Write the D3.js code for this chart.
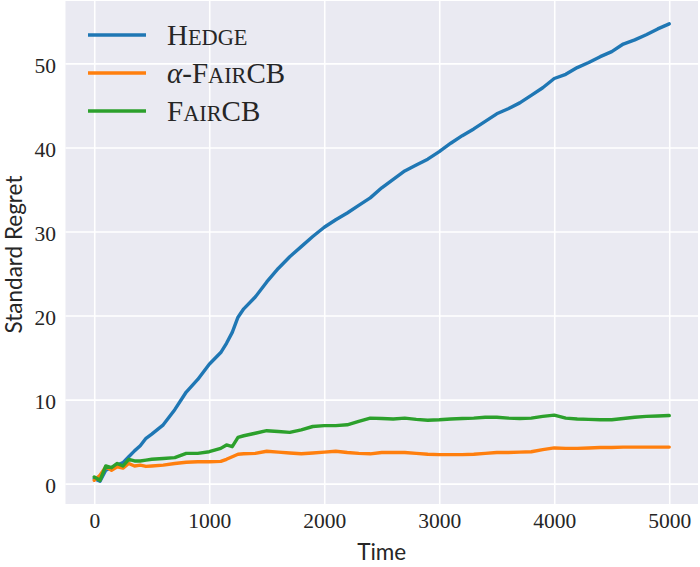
<!DOCTYPE html>
<html>
<head>
<meta charset="utf-8">
<script src="https://cdn.jsdelivr.net/npm/d3@7"></script>
<style>
    body { margin: 0; background: #fff; }
    .tick text { font-family: "Liberation Serif", serif; font-size: 21.5px; fill: #262626; }
    .tick line { stroke: #fff; stroke-width: 1.6; }
    .domain { display: none; }
    .axis-title { font-family: "Lato", "DejaVu Sans", sans-serif; font-size: 22.5px; fill: #262626; }
    .legend-label { font-family: "Liberation Serif", serif; font-size: 29px; fill: #262626; }
</style>
</head>
<body>
<svg id="chart"></svg>
<script>
// time steps the curves were read at
const steps = [0, 50, 100, 150, 200, 250, 300, 350, 400, 450, 500,
    600, 700, 800, 900, 1000, 1100, 1150, 1200, 1250,
    1300, 1400, 1500, 1600, 1700, 1800, 1900, 2000, 2100, 2200,
    2300, 2400, 2500, 2600, 2700, 2800, 2900, 3000, 3100, 3200,
    3300, 3400, 3500, 3600, 3700, 3800, 3900, 4000, 4100, 4200,
    4300, 4400, 4500, 4600, 4700, 4800, 4900, 5000];

const hedge = [0.6, 0.3, 1.6, 1.9, 2.2, 2.5, 3.2, 3.9, 4.5, 5.4, 5.9,
    7.0, 8.8, 10.9, 12.4, 14.2, 15.6, 16.7, 18.0, 19.8,
    20.8, 22.2, 24.0, 25.6, 27.0, 28.2, 29.4, 30.5, 31.4, 32.2,
    33.1, 34.0, 35.2, 36.2, 37.2, 37.9, 38.6, 39.5, 40.5, 41.4,
    42.2, 43.1, 44.0, 44.6, 45.3, 46.2, 47.1, 48.2, 48.7, 49.5,
    50.1, 50.8, 51.4, 52.3, 52.8, 53.4, 54.1, 54.7];

const alphaFairCB = [0.4, 1.0, 2.0, 1.6, 2.0, 1.85, 2.4, 2.1, 2.2, 2.05, 2.1,
    2.2, 2.4, 2.55, 2.6, 2.6, 2.65, 2.9, 3.2, 3.5,
    3.55, 3.6, 3.85, 3.75, 3.65, 3.55, 3.65, 3.75, 3.85, 3.7,
    3.6, 3.55, 3.7, 3.7, 3.7, 3.6, 3.5, 3.45, 3.45, 3.45,
    3.5, 3.6, 3.7, 3.7, 3.75, 3.8, 4.05, 4.25, 4.2, 4.2,
    4.25, 4.3, 4.3, 4.35, 4.35, 4.35, 4.35, 4.35];

const fairCB = [0.8, 0.4, 2.1, 1.9, 2.4, 2.1, 2.9, 2.7, 2.7, 2.8, 2.9,
    3.0, 3.1, 3.6, 3.6, 3.8, 4.2, 4.6, 4.4, 5.5,
    5.7, 6.0, 6.3, 6.2, 6.1, 6.4, 6.8, 6.9, 6.9, 7.0,
    7.4, 7.8, 7.75, 7.7, 7.8, 7.65, 7.55, 7.6, 7.7, 7.75,
    7.8, 7.9, 7.9, 7.8, 7.75, 7.8, 8.0, 8.15, 7.8, 7.7,
    7.65, 7.6, 7.6, 7.75, 7.9, 8.0, 8.05, 8.1];

const seriesNames = ["Hedge", "α-FairCB", "FairCB"];
const seriesColors = ["#1f77b4", "#ff7f0e", "#2ca02c"];
const xTicks = [0, 1000, 2000, 3000, 4000, 5000];
const yTicks = [0, 10, 20, 30, 40, 50];

const config = {
    containerWidth: 700,
    containerHeight: 567,
    margin: {top: 1, right: 2, bottom: 63, left: 65.5}
};

const width = config.containerWidth - config.margin.left - config.margin.right;
const height = config.containerHeight - config.margin.top - config.margin.bottom;

const svg = d3.select("#chart")
    .attr("width", config.containerWidth)
    .attr("height", config.containerHeight);

const chartArea = svg.append("g")
    .attr("transform", `translate(${config.margin.left},${config.margin.top})`);

chartArea.append("rect")
    .attr("width", width)
    .attr("height", height)
    .attr("fill", "#eaeaf2");

// matplotlib default 5% margins
const xScale = d3.scaleLinear().domain([-250, 5250]).range([0, width]);
const yScale = d3.scaleLinear().domain([-2.42, 57.42]).range([height, 0]);

chartArea.append("g")
    .attr("class", "axis-x")
    .attr("transform", `translate(0,${height})`)
    .call(d3.axisBottom(xScale).tickValues(xTicks).tickFormat(d3.format("d"))
        .tickSize(-height).tickPadding(9));

chartArea.append("g")
    .attr("class", "axis-y")
    .call(d3.axisLeft(yScale).tickValues(yTicks).tickFormat(d3.format("d"))
        .tickSize(-width).tickPadding(9.5))
    .selectAll("text")
    .attr("dy", "0.42em");

const series = [hedge, alphaFairCB, fairCB];
const line = d3.line()
    .x((d, i) => xScale(steps[i]))
    .y(d => yScale(d));

chartArea.selectAll(".series")
    .data(series)
    .join("path")
    .attr("class", "series")
    .attr("fill", "none")
    .attr("stroke", (d, i) => seriesColors[i])
    .attr("stroke-width", 3.4)
    .attr("stroke-linejoin", "round")
    .attr("stroke-linecap", "round")
    .attr("d", line);

// axis titles
svg.append("text")
    .attr("class", "axis-title")
    .attr("x", config.margin.left + width / 2)
    .attr("y", 560)
    .attr("text-anchor", "middle")
    .text("Time");

svg.append("text")
    .attr("class", "axis-title")
    .attr("transform", `translate(13.5,${config.margin.top + height / 2 + 2}) rotate(-90)`)
    .attr("text-anchor", "middle")
    .attr("dominant-baseline", "central")
    .text("Standard Regret");

// legend, names set in small caps like \textsc
function smallCapsParts(name) {
    const parts = [];
    for (const ch of name) {
        let kind = "cap";
        if (/[a-z]/.test(ch)) kind = "sc";
        else if (/[α-ω]/.test(ch)) kind = "greek";
        const last = parts[parts.length - 1];
        if (last && last.kind === kind) last.text += ch;
        else parts.push({kind: kind, text: ch});
    }
    return parts;
}

const legend = svg.append("g").attr("class", "legend");
seriesNames.forEach((name, i) => {
    const y = 35 + i * 38;
    legend.append("line")
        .attr("x1", 88).attr("x2", 146)
        .attr("y1", y).attr("y2", y)
        .attr("stroke", seriesColors[i])
        .attr("stroke-width", 3.4);
    const label = legend.append("text")
        .attr("class", "legend-label")
        .attr("x", 167)
        .attr("y", y + 10);
    smallCapsParts(name).forEach(p => {
        label.append("tspan")
            .attr("font-size", p.kind === "sc" ? "0.77em" : null)
            .attr("font-style", p.kind === "greek" ? "italic" : null)
            .text(p.kind === "sc" ? p.text.toUpperCase() : p.text);
    });
});
</script>
</body>
</html>
